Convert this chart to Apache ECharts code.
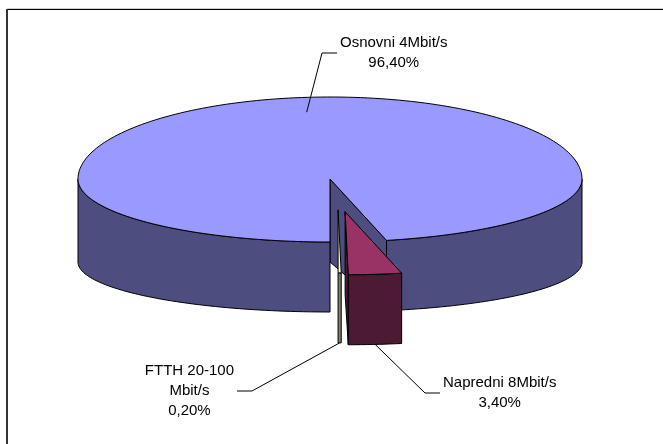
<!DOCTYPE html>
<html>
<head>
<meta charset="utf-8">
<script src="https://cdn.jsdelivr.net/npm/echarts/dist/echarts.min.js"></script>
<style>
  html, body { margin: 0; padding: 0; background: #ffffff; }
  #chart { width: 663px; height: 444px; }
</style>
</head>
<body>
<div id="chart"></div>
<script>
// Broadband package shares (percent)
const categories = ['Osnovni 4Mbit/s', 'Napredni 8Mbit/s', 'FTTH 20-100\nMbit/s'];
const shares = [96.4, 3.4, 0.2];

// Pie body layout (pixels) for the tilted 3D disc
const G = {
  cx: 330, cy: 179,
  rx: 252,
  ryBackTop: 82,
  ryFrontTop: 63,
  ryFrontBottom: 50,
  depth: 83,
  startAngle: 180
};

// Per-slice appearance: face colours and explode offset (fraction of rx / ryFrontTop)
const sliceStyle = [
  { top: '#9999FF', side: '#4D4D80', explode: [0, 0] },
  { top: '#993366', side: '#4D1A33', explode: [0.06, 0.52] },
  { top: '#FFFFCC', side: '#808066', explode: [0.032, 0.49] }
];

// Leader-line layout: where the line hooks to the slice and where the elbow sits
const labelLayout = [
  { at: 'top', r: 0.82, elbow: [322, 53], len: 15, side: 'right' },
  { at: 'bottom', r: 1, elbow: [425, 393], len: 15, side: 'right' },
  { at: 'bottom', r: 1, elbow: [252, 391], len: 15, side: 'left' }
];

const FONT_SIZE = 15;
const LINE_H = 20;
const FONT_FAMILY = '"Liberation Sans", Arial, sans-serif';

const total = shares.reduce((a, b) => a + b, 0);
const starts = [];
(function () { let acc = 0; shares.forEach(v => { starts.push(acc); acc += v; }); })();

const measureCtx = document.createElement('canvas').getContext('2d');
measureCtx.font = FONT_SIZE + 'px ' + FONT_FAMILY;
function textWidth(s) { return measureCtx.measureText(s).width; }

function rad(a) { return a * Math.PI / 180; }
function proj(theta, r, h, off) {
  const t = rad(theta);
  const gx = r * Math.sin(t);
  const gy = -r * Math.cos(t);
  const ry = gy < 0 ? G.ryBackTop : G.ryFrontTop + (G.ryFrontBottom - G.ryFrontTop) * h;
  return [G.cx + gx * G.rx + off[0], G.cy + h * G.depth + gy * ry + off[1]];
}
function arc(a0, a1, h, off) {
  const n = Math.max(2, Math.ceil(Math.abs(a1 - a0) / 1.5));
  const pts = [];
  for (let k = 0; k <= n; k++) pts.push(proj(a0 + (a1 - a0) * k / n, 1, h, off));
  return pts;
}
function pctText(v) { return v.toFixed(2).replace('.', ',') + '%'; }

function renderItem(params, api) {
  const i = params.dataIndex;
  const v = api.value(0);
  const a0 = G.startAngle + starts[i] / total * 360;
  const a1 = a0 + v / total * 360;
  const st = sliceStyle[i];
  const off = [st.explode[0] * G.rx, st.explode[1] * G.ryFrontTop];
  const edge = { stroke: '#000000', lineWidth: 1, lineJoin: 'round' };
  const children = [];

  // radial side faces that turn toward the viewer
  [[a0, -Math.sin(rad(a0))], [a1, Math.sin(rad(a1))]].forEach(([a, vis]) => {
    if (vis > 1e-6) {
      children.push({
        type: 'polygon',
        shape: { points: [proj(a, 0, 0, off), proj(a, 1, 0, off), proj(a, 1, 1, off), proj(a, 0, 1, off)] },
        style: Object.assign({ fill: st.side }, edge)
      });
    }
  });

  // curved outer wall on the front half of the disc
  for (let k = Math.floor(a0 / 360) - 1; k <= Math.ceil(a1 / 360) + 1; k++) {
    const s = Math.max(a0, 90 + 360 * k);
    const e = Math.min(a1, 270 + 360 * k);
    if (e > s) {
      const topArc = arc(s, e, 0, off);
      const botArc = arc(e, s, 1, off);
      children.push({
        type: 'polygon',
        shape: { points: topArc.concat(botArc) },
        style: Object.assign({ fill: st.side }, edge)
      });
    }
  }

  // top face
  children.push({
    type: 'polygon',
    shape: { points: [proj(a0, 0, 0, off)].concat(arc(a0, a1, 0, off)) },
    style: Object.assign({ fill: st.top }, edge)
  });

  // leader line and label
  const L = labelLayout[i];
  const mid = (a0 + a1) / 2;
  const anchor = proj(mid, L.r, L.at === 'top' ? 0 : 1, off);
  const dir = L.side === 'right' ? 1 : -1;
  const endX = L.elbow[0] + dir * L.len;
  children.push({
    type: 'polyline',
    shape: { points: [anchor, L.elbow, [endX, L.elbow[1]]] },
    style: { stroke: '#000000', lineWidth: 1, fill: null }
  });
  const lines = categories[i].split('\n').concat([pctText(v)]);
  const w = Math.max.apply(null, lines.map(textWidth));
  const cxText = endX + dir * (3 + w / 2);
  children.push({
    type: 'text',
    style: {
      x: cxText,
      y: L.elbow[1],
      text: lines.join('\n'),
      fill: '#000000',
      font: FONT_SIZE + 'px ' + FONT_FAMILY,
      align: 'center',
      verticalAlign: 'middle',
      lineHeight: LINE_H
    }
  });

  return { type: 'group', children: children };
}

const chart = echarts.init(document.getElementById('chart'), null, { renderer: 'canvas' });
chart.setOption({
  backgroundColor: '#ffffff',
  animation: false,
  graphic: [
    { type: 'line', shape: { x1: 7, y1: 8.5, x2: 663, y2: 8.5 }, style: { stroke: '#d0d0d0', lineWidth: 1 } },
    { type: 'line', shape: { x1: 7, y1: 9.5, x2: 663, y2: 9.5 }, style: { stroke: '#000000', lineWidth: 1 } },
    { type: 'line', shape: { x1: 7, y1: 9, x2: 7, y2: 444 }, style: { stroke: '#333333', lineWidth: 2 } }
  ],
  series: [{
    type: 'custom',
    coordinateSystem: 'none',
    renderItem: renderItem,
    data: shares.map((v, i) => ({ value: [v], name: categories[i] }))
  }]
});
</script>
</body>
</html>
